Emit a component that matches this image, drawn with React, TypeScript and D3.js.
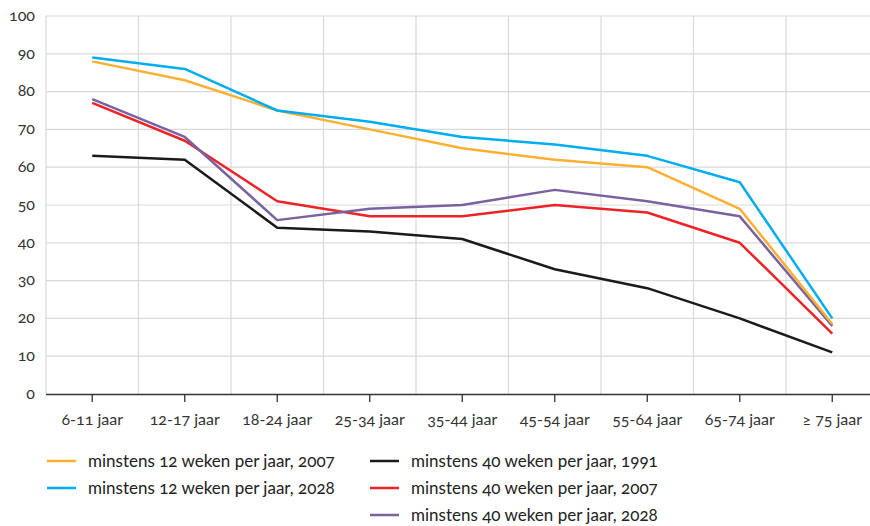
import React, { useEffect, useRef } from 'react';
import * as d3 from 'd3';

const categories = ['6-11 jaar', '12-17 jaar', '18-24 jaar', '25-34 jaar', '35-44 jaar', '45-54 jaar', '55-64 jaar', '65-74 jaar', '≥ 75 jaar'];
const yTicks = [0, 10, 20, 30, 40, 50, 60, 70, 80, 90, 100];

const weken12_2007 = [88, 83, 75, 70, 65, 62, 60, 49, 18.5];
const weken12_2028 = [89, 86, 75, 72, 68, 66, 63, 56, 20];
const weken40_1991 = [63, 62, 44, 43, 41, 33, 28, 20, 11];
const weken40_2007 = [77, 67, 51, 47, 47, 50, 48, 40, 16];
const weken40_2028 = [78, 68, 46, 49, 50, 54, 51, 47, 18];

const seriesNames = [
  'minstens 12 weken per jaar, 2007',
  'minstens 12 weken per jaar, 2028',
  'minstens 40 weken per jaar, 1991',
  'minstens 40 weken per jaar, 2007',
  'minstens 40 weken per jaar, 2028',
];
const seriesColors = ['#fbb034', '#00aeef', '#1a1a1a', '#ec2327', '#7a619f'];

const App = () => {
  const svgRef = useRef<SVGSVGElement>(null);

  useEffect(() => {
    const width = 870;
    const height = 526;
    const margin = { top: 16, left: 46, bottom: 132 };
    const font = 'Lato, "Open Sans", sans-serif';

    const svg = d3.select(svgRef.current)
      .attr('width', width)
      .attr('height', height)
      .style('display', 'block')
      .style('position', 'absolute')
      .style('left', '0px')
      .style('top', '0px')
      .style('background', '#fff');

    svg.selectAll('*').remove();

    const plotBottom = height - margin.bottom;

    const x = d3.scaleBand<string>()
      .domain(categories)
      .range([margin.left, margin.left + categories.length * 92.5]);

    const y = d3.scaleLinear()
      .domain([0, 100])
      .range([plotBottom, margin.top]);

    const grid = svg.append('g');

    // horizontal gridlines
    grid.selectAll('.hline')
      .data(yTicks.filter(d => d > 0))
      .enter()
      .append('line')
      .attr('x1', margin.left)
      .attr('x2', width)
      .attr('y1', d => y(d))
      .attr('y2', d => y(d))
      .attr('stroke', '#d9d9d9')
      .attr('stroke-width', 1.2);

    // vertical gridlines at band edges
    grid.selectAll('.vline')
      .data(categories)
      .enter()
      .append('line')
      .attr('x1', d => x(d)!)
      .attr('x2', d => x(d)!)
      .attr('y1', y(100))
      .attr('y2', plotBottom)
      .attr('stroke', '#d9d9d9')
      .attr('stroke-width', 1.2);

    // y labels
    svg.selectAll('.ylab')
      .data(yTicks)
      .enter()
      .append('text')
      .attr('x', 35)
      .attr('y', d => y(d))
      .attr('dy', '0.3em')
      .attr('text-anchor', 'end')
      .attr('font-family', font)
      .attr('font-size', 16)
      .style('font-feature-settings', '"onum"')
      .attr('fill', '#333')
      .text(d => d);

    // x axis
    const xAxis = d3.axisBottom(x).tickSize(8).tickSizeOuter(0).tickPadding(12);
    const ax = svg.append('g')
      .attr('transform', `translate(0,${plotBottom})`)
      .call(xAxis);
    ax.select('.domain')
      .attr('d', `M${margin.left},0.5H${width}`)
      .attr('stroke', '#333')
      .attr('stroke-width', 1.5);
    ax.selectAll('.tick line').attr('stroke', '#333').attr('stroke-width', 1.3);
    ax.selectAll('.tick text')
      .attr('font-family', font)
      .attr('font-size', 16)
      .style('font-feature-settings', '"onum"')
      .attr('fill', '#333');

    const line = d3.line<number>()
      .x((d, i) => x(categories[i])! + x.bandwidth() / 2)
      .y(d => y(d));

    const allSeries = [weken12_2007, weken12_2028, weken40_1991, weken40_2007, weken40_2028];
    const drawOrder = [2, 3, 4, 0, 1];

    drawOrder.forEach(i => {
      svg.append('path')
        .datum(allSeries[i])
        .attr('d', line)
        .attr('fill', 'none')
        .attr('stroke', seriesColors[i])
        .attr('stroke-width', 2.5)
        .attr('stroke-linejoin', 'round');
    });

    // legend
    const legendPos = [
      { x: 47, y: 461 },
      { x: 47, y: 488 },
      { x: 370, y: 461 },
      { x: 370, y: 488 },
      { x: 370, y: 515 },
    ];

    const legend = svg.selectAll('.legend')
      .data(seriesNames)
      .enter()
      .append('g')
      .attr('transform', (d, i) => `translate(${legendPos[i].x},${legendPos[i].y})`);

    legend.append('line')
      .attr('x1', 0)
      .attr('x2', 29)
      .attr('stroke', (d, i) => seriesColors[i])
      .attr('stroke-width', 2.5);

    legend.append('text')
      .attr('x', 41)
      .attr('dy', '0.35em')
      .attr('font-family', font)
      .attr('font-size', 17)
      .style('font-feature-settings', '"onum"')
      .attr('fill', '#222')
      .text(d => d);
  }, []);

  return <svg ref={svgRef}></svg>;
};

export default App;
